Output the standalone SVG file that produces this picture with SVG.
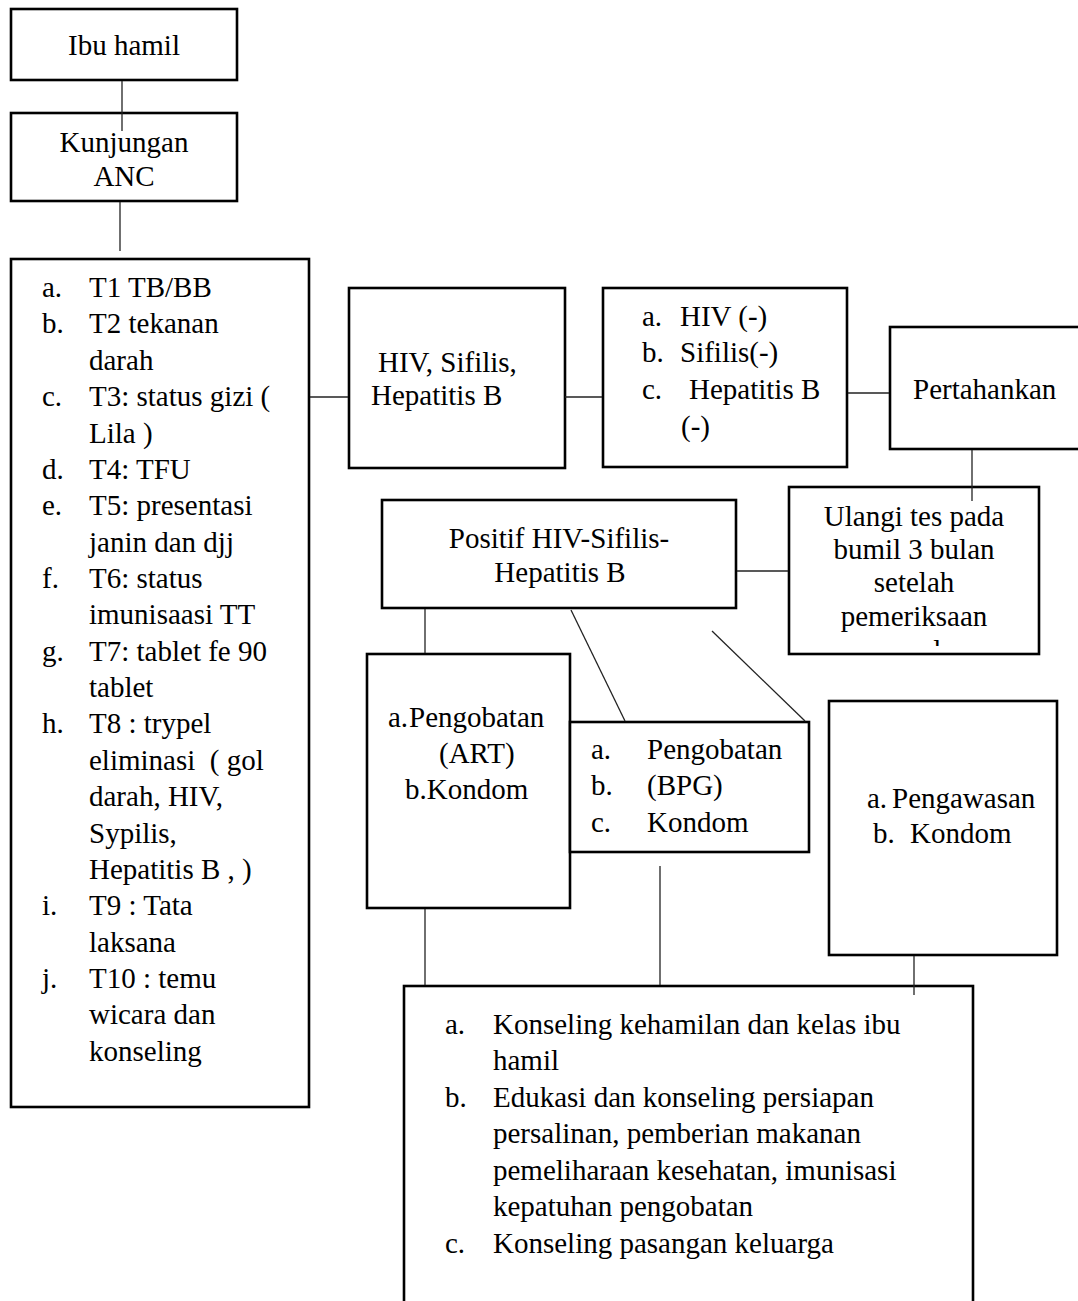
<svg xmlns="http://www.w3.org/2000/svg" width="1078" height="1301" viewBox="0 0 1078 1301">
<style>
.box{fill:#fff;stroke:#000;stroke-width:2.6}
.con{stroke:#222;stroke-width:1.3;fill:none}
text{font-family:"Liberation Serif","Times New Roman",serif;font-size:29px;fill:#000;white-space:pre}
.c{text-anchor:middle}
</style>
<defs>
<clipPath id="ulangiClip"><rect x="789" y="487" width="250" height="159"/></clipPath>
</defs>
<rect width="1078" height="1301" fill="#fff"/>
<g id="ibu-hamil">
<rect class="box" x="11" y="9" width="226" height="71"/>
<text class="c" x="124" y="55">Ibu hamil</text>
</g>
<g id="kunjungan-anc">
<rect class="box" x="11" y="113" width="226" height="88"/>
<text class="c" x="124" y="152">Kunjungan</text>
<text class="c" x="124" y="186">ANC</text>
</g>
<g id="t-list">
<rect class="box" x="11" y="259" width="298" height="848"/>
<text x="42" y="297">a.</text><text x="89" y="297">T1 TB/BB</text>
<text x="42" y="333">b.</text><text x="89" y="333">T2 tekanan</text>
<text x="89" y="370">darah</text>
<text x="42" y="406">c.</text><text x="89" y="406">T3: status gizi (</text>
<text x="89" y="443">Lila )</text>
<text x="42" y="479">d.</text><text x="89" y="479">T4: TFU</text>
<text x="42" y="515">e.</text><text x="89" y="515">T5: presentasi</text>
<text x="89" y="552">janin dan djj</text>
<text x="42" y="588">f.</text><text x="89" y="588">T6: status</text>
<text x="89" y="624">imunisaasi TT</text>
<text x="42" y="661">g.</text><text x="89" y="661">T7: tablet fe 90</text>
<text x="89" y="697">tablet</text>
<text x="42" y="733">h.</text><text x="89" y="733">T8 : trypel</text>
<text x="89" y="770">eliminasi  ( gol</text>
<text x="89" y="806">darah, HIV,</text>
<text x="89" y="843">Sypilis,</text>
<text x="89" y="879">Hepatitis B , )</text>
<text x="42" y="915">i.</text><text x="89" y="915">T9 : Tata</text>
<text x="89" y="952">laksana</text>
<text x="42" y="988">j.</text><text x="89" y="988">T10 : temu</text>
<text x="89" y="1024">wicara dan</text>
<text x="89" y="1061">konseling</text>
</g>
<g id="tes">
<rect class="box" x="349" y="288" width="216" height="180"/>
<text x="378" y="372">HIV, Sifilis,</text>
<text x="371" y="405">Hepatitis B</text>
</g>
<g id="hasil-negatif">
<rect class="box" x="603" y="288" width="244" height="179"/>
<text x="642" y="326">a.</text><text x="680" y="326">HIV (-)</text>
<text x="642" y="362">b.</text><text x="680" y="362">Sifilis(-)</text>
<text x="642" y="399">c.</text><text x="689" y="399">Hepatitis B</text>
<text x="681" y="436">(-)</text>
</g>
<g id="pertahankan">
<rect class="box" x="890" y="327" width="210" height="122"/>
<text x="913" y="399">Pertahankan</text>
</g>
<g id="ulangi">
<rect class="box" x="789" y="487" width="250" height="167"/>
<text class="c" x="914" y="526">Ulangi tes pada</text>
<text class="c" x="914" y="559">bumil 3 bulan</text>
<text class="c" x="914" y="592">setelah</text>
<text class="c" x="914" y="626">pemeriksaan</text>
<text class="c" x="914" y="660" clip-path="url(#ulangiClip)">awal</text>
</g>
<g id="positif">
<rect class="box" x="382" y="500" width="354" height="108"/>
<text class="c" x="559" y="548">Positif HIV-Sifilis-</text>
<text class="c" x="560" y="582">Hepatitis B</text>
</g>
<g id="art">
<rect class="box" x="367" y="654" width="203" height="254"/>
<text x="388" y="727">a.</text><text x="409" y="727">Pengobatan</text>
<text x="439" y="763">(ART)</text>
<text x="405" y="799">b.Kondom</text>
</g>
<g id="bpg">
<rect class="box" x="570" y="722" width="239" height="130"/>
<text x="591" y="759">a.</text><text x="647" y="759">Pengobatan</text>
<text x="591" y="795">b.</text><text x="647" y="795">(BPG)</text>
<text x="591" y="832">c.</text><text x="647" y="832">Kondom</text>
</g>
<g id="pengawasan">
<rect class="box" x="829" y="701" width="228" height="254"/>
<text x="867" y="808">a.</text><text x="892" y="808">Pengawasan</text>
<text x="873" y="843">b.</text><text x="910" y="843">Kondom</text>
</g>
<g id="konseling">
<rect class="box" x="404" y="986" width="569" height="330"/>
<text x="445" y="1034">a.</text><text x="493" y="1034">Konseling kehamilan dan kelas ibu</text>
<text x="493" y="1070">hamil</text>
<text x="445" y="1107">b.</text><text x="493" y="1107">Edukasi dan konseling persiapan</text>
<text x="493" y="1143">persalinan, pemberian makanan</text>
<text x="493" y="1180">pemeliharaan kesehatan, imunisasi</text>
<text x="493" y="1216">kepatuhan pengobatan</text>
<text x="445" y="1253">c.</text><text x="493" y="1253">Konseling pasangan keluarga</text>
</g>
<g id="connectors">
<line class="con" x1="122" y1="81" x2="122" y2="131"/>
<line class="con" x1="120" y1="202" x2="120" y2="251"/>
<line class="con" x1="310" y1="397" x2="348" y2="397"/>
<line class="con" x1="565" y1="397" x2="602" y2="397"/>
<line class="con" x1="848" y1="393" x2="889" y2="393"/>
<line class="con" x1="972" y1="450" x2="972" y2="501"/>
<line class="con" x1="737" y1="571" x2="788" y2="571"/>
<line class="con" x1="425" y1="609" x2="425" y2="653"/>
<line class="con" x1="571" y1="610" x2="625" y2="721"/>
<line class="con" x1="712" y1="631" x2="805" y2="721"/>
<line class="con" x1="425" y1="909" x2="425" y2="985"/>
<line class="con" x1="660" y1="866" x2="660" y2="985"/>
<line class="con" x1="914" y1="956" x2="914" y2="995"/>
</g>
</svg>
